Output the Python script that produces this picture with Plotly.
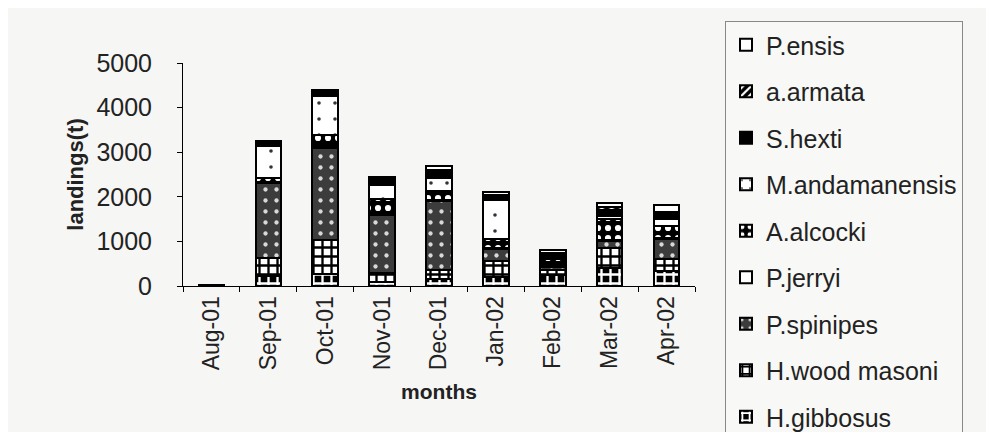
import plotly.graph_objects as go

months = ["Aug-01", "Sep-01", "Oct-01", "Nov-01", "Dec-01", "Jan-02", "Feb-02", "Mar-02", "Apr-02"]

# stacked bottom -> top
h_gibbosus      = [5, 230, 260, 100, 150, 200, 250, 400, 330]
h_wood_masoni   = [5, 400, 780, 200, 200, 350, 100, 450, 270]
p_spinipes      = [10, 1680, 2060, 1300, 1550, 270, 80, 150, 450]
p_jerryi        = [0, 20, 30, 30, 30, 30, 20, 30, 30]
a_alcocki       = [5, 100, 250, 310, 200, 200, 150, 470, 270]
m_andamanensis  = [5, 700, 870, 330, 300, 880, 30, 60, 150]
s_hexti         = [0, 60, 80, 100, 120, 80, 70, 150, 120]
a_armata        = [0, 30, 40, 50, 60, 40, 50, 60, 50]
p_ensis         = [0, 30, 30, 30, 70, 50, 50, 80, 150]

series = [
    ("H.gibbosus", h_gibbosus, dict(shape="+", bgcolor="black", fgcolor="white", size=9, solidity=0.45)),
    ("H.wood masoni", h_wood_masoni, dict(shape="+", bgcolor="white", fgcolor="black", size=9, solidity=0.45)),
    ("P.spinipes", p_spinipes, dict(shape=".", bgcolor="#3c3c3c", fgcolor="#d8d8d8", size=11, solidity=0.12)),
    ("P.jerryi", p_jerryi, dict(shape="", bgcolor="white", fgcolor="black")),
    ("A.alcocki", a_alcocki, dict(shape=".", bgcolor="black", fgcolor="white", size=10, solidity=0.3)),
    ("M.andamanensis", m_andamanensis, dict(shape=".", bgcolor="white", fgcolor="#333", size=16, solidity=0.04)),
    ("S.hexti", s_hexti, dict(shape="", bgcolor="black", fgcolor="black")),
    ("a.armata", a_armata, dict(shape="/", bgcolor="black", fgcolor="white", size=7, solidity=0.4)),
    ("P.ensis", p_ensis, dict(shape="", bgcolor="white", fgcolor="black")),
]

fig = go.Figure()
n = len(series)
for i, (name, vals, pat) in enumerate(series):
    if pat["shape"]:
        marker = dict(color=pat["bgcolor"], pattern=dict(shape=pat["shape"], bgcolor=pat["bgcolor"],
                                                         fgcolor=pat["fgcolor"], size=pat["size"],
                                                         solidity=pat["solidity"], fillmode="replace"),
                      line=dict(color="black", width=2))
    else:
        marker = dict(color=pat["bgcolor"], line=dict(color="black", width=2))
    fig.add_trace(go.Bar(x=months, y=vals, name=name, marker=marker, legendgroup=name,
                         legendrank=n - i))

font_family = "Arial, Liberation Sans, sans-serif"
fig.update_layout(
    width=994, height=432,
    barmode="stack", bargap=0.55,
    paper_bgcolor="#f6f6f4", plot_bgcolor="#f6f6f4",
    margin=dict(l=175, r=307, t=55, b=154),
    font=dict(family=font_family, color="#222"),
    showlegend=True,
    legend=dict(
        xref="container", yref="container", x=717 / 994, y=1 - 13 / 432,
        xanchor="left", yanchor="top",
        traceorder="grouped", tracegroupgap=11,
        font=dict(size=25, family=font_family, color="#222"),
        bordercolor="#888", borderwidth=1, bgcolor="#f8f8f6",
        maxheight=600,
    ),
    xaxis=dict(
        showline=True, linecolor="black", linewidth=1,
        ticks="outside", tickson="boundaries", ticklen=5, tickcolor="black",
        tickangle=-90, tickfont=dict(size=23),
        title=dict(text="<b>months</b>", font=dict(size=21), standoff=14),
    ),
    yaxis=dict(
        range=[0, 5000], dtick=1000, showgrid=False, zeroline=False,
        showline=True, linecolor="black", linewidth=1,
        ticks="outside", ticklen=5, tickcolor="black",
        tickfont=dict(size=25), ticklabelstandoff=20,
        title=dict(text="<b>landings(t)</b>", font=dict(size=22), standoff=6),
    ),
)

fig.write_html("out.html")
